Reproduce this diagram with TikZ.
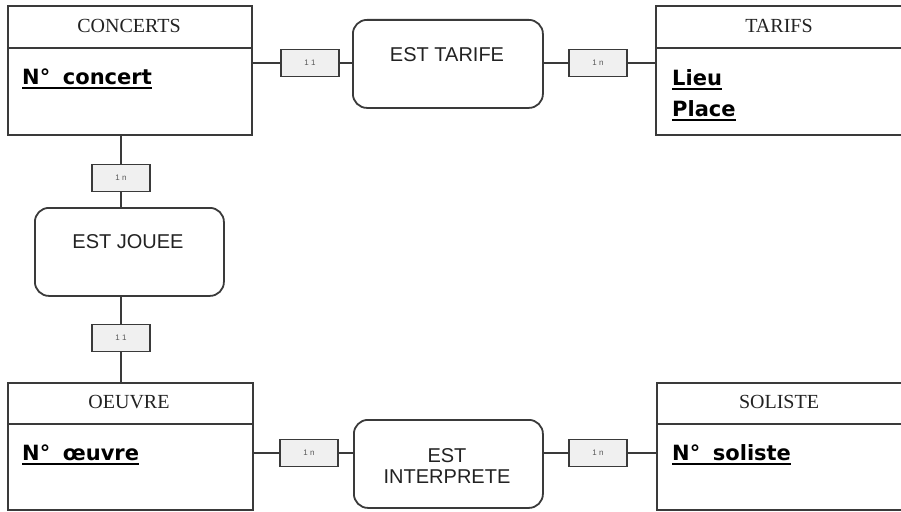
\documentclass[tikz,border=0pt]{standalone}
\usepackage{fontspec}
\setmainfont{Liberation Serif}
\newfontfamily\arialf{Liberation Sans}
\newfontfamily\attrf{DejaVu Sans}
\definecolor{edge}{HTML}{3A3A3A}
\definecolor{cardfill}{HTML}{F0F0F0}
\definecolor{ink}{HTML}{222222}
\newcommand\myul[1]{\leavevmode\vtop{\hbox{#1}\kern2.5pt\hrule height 1.8pt}}
\tikzset{
  entity/.style={draw=edge, line width=1.8pt, anchor=north west, inner sep=0pt},
  relation/.style={draw=edge, line width=1.8pt, rounded corners=14pt, anchor=north west, inner sep=0pt},
  card/.style={draw=edge, line width=1.5pt, fill=cardfill, minimum width=58pt, minimum height=27pt, inner sep=0pt, font=\arialf\fontsize{8}{9}\selectfont, text=black!65},
  link/.style={draw=edge, line width=1.8pt},
  ehead/.style={font=\fontsize{20}{22}\selectfont, text=ink},
  attr/.style={font=\attrf\bfseries\fontsize{21}{23}\selectfont, anchor=base west, text=black, inner sep=0pt},
  rtext/.style={font=\arialf\fontsize{20}{22}\selectfont, anchor=base, text=ink, inner sep=0pt},
}
\begin{document}
\begin{tikzpicture}[x=1pt,y=-1pt]
\useasboundingbox (0,0) rectangle (901,511);
% entities
\node[entity, minimum width=244pt, minimum height=129pt] (concerts) at (7,5) {};
\node[entity, minimum width=248pt, minimum height=129pt] (tarifs) at (655,5) {};
\node[entity, minimum width=245pt, minimum height=127pt] (oeuvre) at (7,382) {};
\node[entity, minimum width=247pt, minimum height=127pt] (soliste) at (656,382) {};
\draw[link] (concerts.west |- 0,48) -- (concerts.east |- 0,48);
\draw[link] (tarifs.west |- 0,48) -- (tarifs.east |- 0,48);
\draw[link] (oeuvre.west |- 0,424) -- (oeuvre.east |- 0,424);
\draw[link] (soliste.west |- 0,424) -- (soliste.east |- 0,424);
\node[ehead] (hconcerts) at (129,26) {CONCERTS};
\node[ehead] (htarifs) at (779,26) {TARIFS};
\node[ehead] (hoeuvre) at (129,402) {OEUVRE};
\node[ehead] (hsoliste) at (779,402) {SOLISTE};
\node[attr] (aconcert) at (22,84) {\myul{N°\hspace{0.6em}concert}};
\node[attr] (alieu) at (672,85) {\myul{Lieu}};
\node[attr] (aplace) at (672,116) {\myul{Place}};
\node[attr] (aoeuvre) at (22,460) {\myul{N°\hspace{0.6em}œuvre}};
\node[attr] (asoliste) at (672,460) {\myul{N°\hspace{0.6em}soliste}};
% relations
\node[relation, minimum width=190pt, minimum height=88pt] (tarife) at (352,19) {};
\node[relation, minimum width=189pt, minimum height=88pt] (jouee) at (34,207) {};
\node[relation, minimum width=189pt, minimum height=88pt] (interprete) at (353,419) {};
\node[rtext] (ttarife) at (447,61) {EST TARIFE};
\node[rtext] (tjouee) at (128,248) {EST JOUEE};
\node[rtext] (tinterp1) at (447,462) {EST};
\node[rtext] (tinterp2) at (447,483) {INTERPRETE};
% cardinalities
\node[card] (c1) at (310,63) {1 1};
\node[card] (c2) at (598,63) {1 n};
\node[card] (c3) at (121,178) {1 n};
\node[card] (c4) at (121,338) {1 1};
\node[card] (c5) at (309,453) {1 n};
\node[card] (c6) at (598,453) {1 n};
% connectors
\draw[link] (c1.west -| concerts.east) -- (c1.west);
\draw[link] (c1.east) -- (c1.east -| tarife.west);
\draw[link] (c2.west -| tarife.east) -- (c2.west);
\draw[link] (c2.east) -- (c2.east -| tarifs.west);
\draw[link] (c3.north |- concerts.south) -- (c3.north);
\draw[link] (c3.south) -- (c3.south |- jouee.north);
\draw[link] (c4.north |- jouee.south) -- (c4.north);
\draw[link] (c4.south) -- (c4.south |- oeuvre.north);
\draw[link] (c5.west -| oeuvre.east) -- (c5.west);
\draw[link] (c5.east) -- (c5.east -| interprete.west);
\draw[link] (c6.west -| interprete.east) -- (c6.west);
\draw[link] (c6.east) -- (c6.east -| soliste.west);
\end{tikzpicture}
\end{document}
